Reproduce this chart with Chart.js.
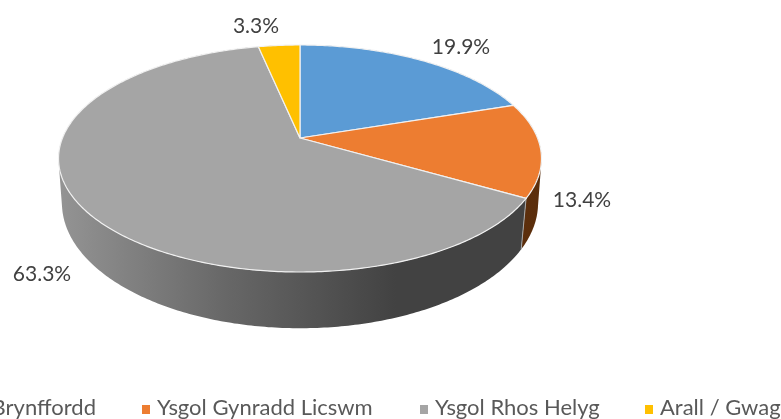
<!DOCTYPE html>
<html>
<head>
<meta charset="utf-8">
<script src="https://cdn.jsdelivr.net/npm/chart.js@4/dist/chart.umd.js"></script>
<style>
  html, body { margin: 0; padding: 0; background: #fff; overflow: hidden; }
  canvas { display: block; }
</style>
</head>
<body>
<canvas id="pie" width="781" height="419"></canvas>
<script>
const categories = ['Ysgol Gynradd Brynffordd', 'Ysgol Gynradd Licswm', 'Ysgol Rhos Helyg', 'Arall / Gwag'];
const values = [19.9, 13.4, 63.3, 3.3];
const sliceColors = ['#5b9bd5', '#ed7d31', '#a5a5a5', '#ffc000'];

// where the labels sit, the old chart placed them by hand
const labelCentres = [[461, 47], [582, 200], [42, 274], [256, 26]];
const legendMarkerX = [-36, 142, 420, 645];

const fontName = 'Lato, sans-serif';

// the perspective of the 3d pie: top face and bottom face of the disc
const topFace = { dy: 0, a: 237.5, b: 109.8, k: -0.1806 };
const bottomFace = { dy: 45, a: 235, b: 122, k: -0.16 };

const project = (el, face, angle) => {
    let u = Math.cos(angle);
    let v = Math.sin(angle);
    let w = 1 + face.k * v;
    return [el.x + face.a * u / w, el.y + face.dy + face.b * v / w];
};

const arcPoints = (el, face) => {
    let points = [];
    let steps = Math.ceil((el.endAngle - el.startAngle) * 80);
    for (let i = 0; i <= steps; i++) {
        points.push(project(el, face, el.startAngle + (el.endAngle - el.startAngle) * i / steps));
    }
    return points;
};

const wallFill = (ctx, index) => {
    let gradient = ctx.createLinearGradient(58, 0, 541, 0);
    if (index == 1) {
        gradient.addColorStop(0, '#6b3712');
        gradient.addColorStop(1, '#5b2e0c');
    } else if (index == 2) {
        gradient.addColorStop(0, '#949494');
        gradient.addColorStop(0.35, '#676767');
        gradient.addColorStop(0.7, '#424242');
        gradient.addColorStop(1, '#424242');
    } else {
        gradient.addColorStop(0, sliceColors[index]);
        gradient.addColorStop(1, sliceColors[index]);
    }
    return gradient;
};

// adds one wall piece to the path, always wound the same way so the pieces add up
const addQuad = (ctx, quad) => {
    let area = 0;
    for (let i = 0; i < 4; i++) {
        let next = quad[(i + 1) % 4];
        area += quad[i][0] * next[1] - next[0] * quad[i][1];
    }
    let corners = area < 0 ? quad.slice().reverse() : quad;
    ctx.moveTo(corners[0][0], corners[0][1]);
    ctx.lineTo(corners[1][0], corners[1][1]);
    ctx.lineTo(corners[2][0], corners[2][1]);
    ctx.lineTo(corners[3][0], corners[3][1]);
    ctx.closePath();
};

const pie3d = {
    id: 'pie3d',
    beforeDatasetsDraw(chart) {
        const ctx = chart.ctx;
        const arcs = chart.getDatasetMeta(0).data;
        ctx.save();

        // walls first
        arcs.forEach((el, index) => {
            let top = arcPoints(el, topFace);
            let bottom = arcPoints(el, bottomFace);
            ctx.beginPath();
            for (let i = 0; i < top.length - 1; i++) {
                addQuad(ctx, [top[i], top[i + 1], bottom[i + 1], bottom[i]]);
            }
            ctx.fillStyle = wallFill(ctx, index);
            ctx.fill();
        });

        // seam between the orange and grey wall
        let seamTop = project(arcs[2], topFace, arcs[2].startAngle);
        let seamBottom = project(arcs[2], bottomFace, arcs[2].startAngle);
        ctx.strokeStyle = '#a8a8a8';
        ctx.lineWidth = 1;
        ctx.beginPath();
        ctx.moveTo(seamTop[0], seamTop[1]);
        ctx.lineTo(seamBottom[0], seamBottom[1]);
        ctx.stroke();

        // then the top face
        arcs.forEach((el, index) => {
            let points = arcPoints(el, topFace);
            ctx.beginPath();
            ctx.moveTo(el.x, el.y);
            points.forEach(p => ctx.lineTo(p[0], p[1]));
            ctx.closePath();
            ctx.fillStyle = sliceColors[index];
            ctx.fill();
            ctx.strokeStyle = '#f1f1f1';
            ctx.lineWidth = 1.2;
            ctx.lineJoin = 'round';
            ctx.stroke();
        });

        ctx.restore();
        return false;
    },
    afterDraw(chart) {
        const ctx = chart.ctx;
        ctx.save();
        ctx.textBaseline = 'middle';

        // value labels
        ctx.textAlign = 'center';
        ctx.fillStyle = '#404040';
        ctx.font = '21px ' + fontName;
        values.forEach((value, i) => {
            ctx.fillText(value.toFixed(1) + '%', labelCentres[i][0], labelCentres[i][1]);
        });

        // legend, it runs off the left edge like the original
        ctx.textAlign = 'left';
        ctx.font = '22px ' + fontName;
        categories.forEach((name, i) => {
            let x = legendMarkerX[i];
            ctx.fillStyle = sliceColors[i];
            ctx.fillRect(x, 405, 8, 9);
            ctx.fillStyle = '#595959';
            if (i == 0) {
                ctx.fillText(name, 96 - ctx.measureText(name).width, 408);
            } else {
                ctx.fillText(name, x + 15, 408);
            }
        });
        ctx.restore();
    }
};

new Chart(document.getElementById('pie'), {
    type: 'pie',
    data: {
        labels: categories,
        datasets: [{
            data: values,
            backgroundColor: sliceColors,
            borderWidth: 0
        }]
    },
    options: {
        responsive: false,
        animation: false,
        // leaves the pie centre where the original has it
        layout: { padding: { left: 0, top: 0, right: 181, bottom: 143 } },
        plugins: {
            legend: { display: false },
            tooltip: { enabled: false }
        }
    },
    plugins: [pie3d]
});
</script>
</body>
</html>
